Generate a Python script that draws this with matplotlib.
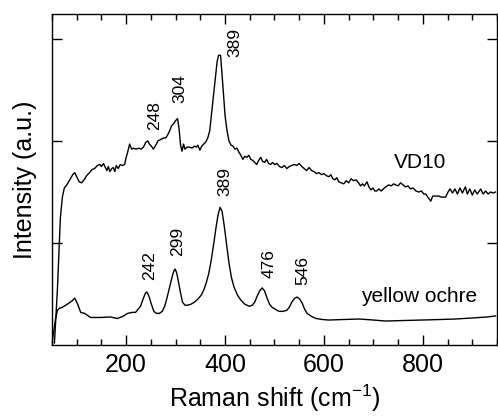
import numpy as np
import matplotlib
matplotlib.use('Agg')
import matplotlib.pyplot as plt
from matplotlib.ticker import MultipleLocator

plt.rcParams['font.family'] = ['Liberation Sans', 'DejaVu Sans']
plt.rcParams['mathtext.fontset'] = 'custom'
plt.rcParams['mathtext.rm'] = 'Liberation Sans'

# yellow ochre spectrum (offset units)
ochre_x = [51, 54, 57, 61, 65, 71, 81, 90, 96, 102, 108, 116, 128, 148, 168,
           182, 193, 203, 212, 219, 229, 235, 239, 242, 246, 251, 256, 261,
           267, 273, 278, 283, 288, 293, 296, 299, 302, 305, 310, 314, 319,
           324, 331, 338, 345, 352, 357, 362, 367, 372, 377, 382, 386, 390,
           394, 398, 402, 408, 413, 418, 425, 432, 440, 449, 455, 460, 465,
           470, 475, 480, 485, 490, 495, 502, 509, 517, 525, 530, 535, 541,
           546, 551, 556, 561, 566, 575, 584, 597, 610, 640, 671, 700, 725,
           760, 798, 835, 866, 900, 930, 947]
ochre_y = [0.05, 0.15, 0.25, 0.34, 0.36, 0.37, 0.40, 0.43, 0.46, 0.40, 0.32,
           0.31, 0.27, 0.27, 0.275, 0.26, 0.28, 0.31, 0.32, 0.32, 0.38, 0.46,
           0.51, 0.52, 0.48, 0.40, 0.33, 0.31, 0.31, 0.33, 0.38, 0.47, 0.57,
           0.67, 0.72, 0.745, 0.71, 0.64, 0.51, 0.42, 0.39, 0.39, 0.40, 0.42,
           0.45, 0.49, 0.54, 0.61, 0.70, 0.83, 0.99, 1.16, 1.28, 1.35, 1.31,
           1.18, 1.03, 0.80, 0.66, 0.57, 0.49, 0.44, 0.40, 0.38, 0.39, 0.42,
           0.48, 0.53, 0.56, 0.53, 0.46, 0.40, 0.37, 0.35, 0.33, 0.33, 0.34,
           0.37, 0.42, 0.46, 0.47, 0.45, 0.41, 0.35, 0.31, 0.28, 0.26, 0.25,
           0.245, 0.25, 0.255, 0.245, 0.235, 0.24, 0.245, 0.25, 0.255, 0.265,
           0.275, 0.285]

# VD10 spectrum
vd10_x = [55, 61, 67, 71, 75, 80, 86, 92, 96, 100, 105, 110, 115, 120, 126,
          131, 136, 142, 147, 150, 154, 158, 161, 164, 167, 171, 174, 177,
          180, 184, 188, 192, 197, 200, 203, 207, 211, 215, 220, 226, 230,
          235, 240, 244, 247, 251, 255, 260, 264, 268, 272, 276, 280, 284,
          288, 292, 296, 300, 304, 307, 310, 313, 316, 319, 323, 328, 333,
          338, 342, 345, 349, 353, 357, 361, 365, 369, 373, 377, 381, 384,
          387, 391, 394, 397, 400, 404, 408, 412, 416, 420, 424, 428, 432,
          436, 440, 444, 448, 452, 456, 460, 464, 468, 472, 476, 480, 484,
          488, 492, 496, 500, 505, 510, 515, 520, 525, 530, 535, 540, 545,
          550, 555, 560, 565, 570, 575, 580, 585, 590, 595, 600, 605, 610,
          614, 618, 622, 626, 630, 635, 640, 645, 650, 655, 660, 665, 670,
          674, 678, 682, 687, 691, 695, 699, 703, 707, 711, 716, 720, 725,
          731, 736, 741, 745, 750, 755, 760, 765, 770, 775, 780, 786, 792,
          797, 802, 806, 810, 816, 820, 826, 832, 838, 846, 851, 855, 860,
          865, 870, 875, 880, 886, 890, 895, 900, 905, 910, 917, 922, 927,
          932, 937, 943, 947]
vd10_y = [0.02, 0.55, 1.25, 1.45, 1.54, 1.57, 1.62, 1.67, 1.69, 1.65, 1.60,
          1.59, 1.62, 1.66, 1.69, 1.72, 1.73, 1.76, 1.77, 1.75, 1.78, 1.74,
          1.71, 1.75, 1.70, 1.73, 1.74, 1.70, 1.76, 1.73, 1.77, 1.76, 1.77,
          1.84, 1.89, 1.97, 1.92, 1.93, 1.92, 1.93, 1.92, 1.94, 1.99, 2.00,
          1.97, 1.95, 1.92, 1.96, 2.00, 2.01, 2.02, 2.03, 2.03, 2.06, 2.10,
          2.15, 2.17, 2.20, 2.22, 2.12, 1.96, 1.90, 1.97, 1.92, 1.94, 1.94,
          1.93, 1.95, 1.94, 1.96, 1.91, 1.95, 1.97, 1.99, 2.03, 2.10, 2.28,
          2.45, 2.63, 2.78, 2.84, 2.84, 2.65, 2.45, 2.25, 2.10, 2.00, 1.96,
          1.95, 1.92, 1.93, 1.89, 1.86, 1.82, 1.85, 1.84, 1.86, 1.82, 1.81,
          1.79, 1.77, 1.81, 1.84, 1.80, 1.79, 1.82, 1.78, 1.77, 1.79, 1.77,
          1.78, 1.75, 1.74, 1.76, 1.73, 1.75, 1.76, 1.77, 1.76, 1.78, 1.75,
          1.73, 1.71, 1.74, 1.71, 1.70, 1.68, 1.69, 1.67, 1.68, 1.66, 1.65,
          1.67, 1.63, 1.62, 1.64, 1.60, 1.59, 1.58, 1.61, 1.59, 1.63, 1.61,
          1.62, 1.59, 1.56, 1.58, 1.56, 1.60, 1.55, 1.52, 1.54, 1.51, 1.51,
          1.53, 1.51, 1.53, 1.55, 1.57, 1.56, 1.58, 1.57, 1.56, 1.59, 1.57,
          1.55, 1.56, 1.53, 1.54, 1.51, 1.50, 1.51, 1.48, 1.48, 1.45, 1.41,
          1.46, 1.46, 1.46, 1.45, 1.45, 1.50, 1.53, 1.49, 1.53, 1.48, 1.54,
          1.49, 1.55, 1.48, 1.53, 1.47, 1.52, 1.48, 1.53, 1.48, 1.51, 1.48,
          1.50, 1.49, 1.50]

# peak labels: (text, x, y) for each spectrum
vd10_peaks = ['248', '304', '389']
vd10_peak_x = [258, 309, 420]
vd10_peak_y = [2.245, 2.51, 2.97]
ochre_peaks = ['242', '299', '389', '476', '546']
ochre_peak_x = [248, 305, 400, 489, 558]
ochre_peak_y = [0.78, 1.02, 1.60, 0.80, 0.735]

fig = plt.figure(figsize=(4.98, 4.18), dpi=100)
ax = fig.add_axes([0.1044, 0.1746, 0.8936, 0.7919])

ax.plot(ochre_x, ochre_y, 'k-', lw=1.0)
ax.plot(vd10_x, vd10_y, 'k-', lw=1.0)

for t, x, y in zip(vd10_peaks, vd10_peak_x, vd10_peak_y):
    ax.text(x, y, t, rotation=90, ha='center', va='center', fontsize=12.5)
for t, x, y in zip(ochre_peaks, ochre_peak_x, ochre_peak_y):
    ax.text(x, y, t, rotation=90, ha='center', va='center', fontsize=12.5)

ax.text(794, 1.79, 'VD10', ha='center', va='center', fontsize=15)
ax.text(793, 0.48, 'yellow ochre', ha='center', va='center', fontsize=15)

ax.set_xlim(50, 950)
ax.set_ylim(0, 3.245)
ax.xaxis.set_major_locator(MultipleLocator(200))
ax.xaxis.set_minor_locator(MultipleLocator(50))
ax.set_yticks([1, 2, 3])

ax.tick_params(which='both', direction='in', top=True, right=True, width=1)
ax.tick_params(which='major', length=7, labelsize=18, pad=6)
ax.tick_params(which='minor', length=4)
ax.tick_params(axis='y', labelleft=False)
for s in ax.spines.values():
    s.set_linewidth(1.0)

ax.set_xlabel('Raman shift (cm$^{\\mathrm{-1}}$)', fontsize=18, labelpad=4)
ax.set_ylabel('Intensity (a.u.)', fontsize=18, labelpad=11)

fig.savefig('out.png', dpi=100)
